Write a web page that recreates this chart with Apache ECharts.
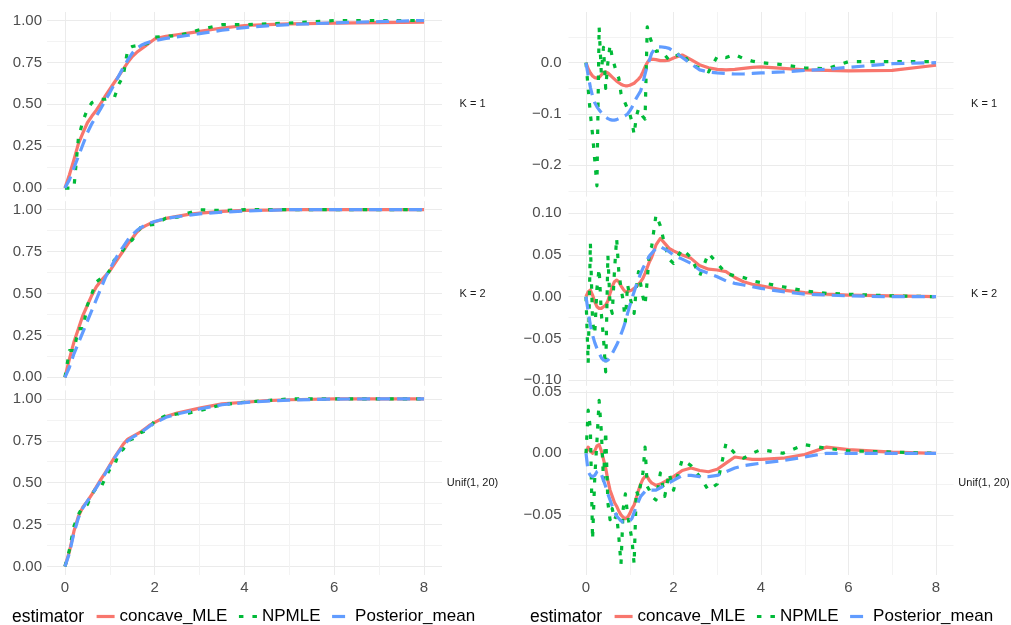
<!DOCTYPE html>
<html><head><meta charset="utf-8">
<script src="https://cdn.jsdelivr.net/npm/echarts@6/dist/echarts.min.js"></script>
<style>html,body{margin:0;padding:0;background:#fff}#c{width:1011px;height:625px}</style>
</head><body><div id="c"></div>
<script>
// ---------- data ----------
const estimators = ['concave_MLE', 'NPMLE', 'Posterior_mean'];
const facetLabels = ['K = 1', 'K = 2', 'Unif(1, 20)'];
const xTicks = [0, 2, 4, 6, 8];
const cdfTicks = [0, 0.25, 0.5, 0.75, 1];
const diffK1Ticks = [-0.2, -0.1, 0.0];
const diffK2Ticks = [-0.10, -0.05, 0, 0.05, 0.10];
const diffUnifTicks = [-0.05, 0, 0.05];

const XL = [0,0.1,0.2,0.3,0.4,0.5,0.6,0.7,0.8,0.9,1.0,1.1,1.2,1.3,1.4,1.5,1.6,1.7,1.8,1.9,2.0,2.25,2.5,2.75,3.0,3.5,4.0,4.5,5.0,6.0,7.0,8.0];
const XR = [0,0.05,0.1,0.15,0.2,0.25,0.3,0.35,0.4,0.45,0.5,0.55,0.6,0.65,0.7,0.75,0.8,0.85,0.9,0.95,1.0,1.05,1.1,1.15,1.2,1.25,1.3,1.35,1.4,1.45,1.5,1.6,1.7,1.8,1.9,2.0,2.2,2.4,2.6,2.8,3.0,3.2,3.4,3.6,3.8,4.0,4.5,5.0,5.5,6.0,7.0,8.0];

const cdfK1Concave = [0,0.08,0.17,0.265,0.33,0.39,0.43,0.465,0.505,0.55,0.59,0.63,0.67,0.71,0.75,0.785,0.81,0.83,0.85,0.87,0.89,0.905,0.915,0.925,0.935,0.955,0.97,0.975,0.98,0.984,0.987,0.99];
const cdfK1NPMLE   = [0,0,0,0.3,0.4,0.47,0.51,0.525,0.53,0.53,0.535,0.54,0.62,0.67,0.83,0.845,0.85,0.855,0.86,0.87,0.9,0.905,0.91,0.925,0.945,0.975,0.975,0.98,0.985,1,1,1];
const cdfK1Post    = [0,0.05,0.12,0.19,0.26,0.33,0.385,0.43,0.475,0.525,0.57,0.62,0.67,0.72,0.765,0.805,0.835,0.852,0.864,0.873,0.88,0.893,0.902,0.912,0.922,0.942,0.958,0.968,0.976,0.986,0.993,1.0];

const cdfK2Concave = [0,0.11,0.21,0.29,0.37,0.43,0.49,0.54,0.575,0.605,0.635,0.675,0.715,0.755,0.795,0.83,0.865,0.89,0.905,0.918,0.928,0.948,0.96,0.972,0.98,0.99,0.996,0.998,1,1,1,1];
const cdfK2NPMLE   = [0,0.16,0.16,0.29,0.29,0.43,0.5,0.57,0.59,0.6,0.64,0.7,0.72,0.76,0.8,0.82,0.86,0.9,0.905,0.91,0.912,0.95,0.955,0.98,1,0.995,1,1,1,1,1,1];
const cdfK2Post    = [0,0.06,0.14,0.205,0.27,0.335,0.4,0.465,0.53,0.595,0.645,0.695,0.74,0.78,0.82,0.85,0.875,0.895,0.91,0.92,0.93,0.948,0.958,0.967,0.975,0.985,0.992,0.996,1,1,1,1];

const cdfUnifConcave = [0,0.09,0.21,0.3,0.355,0.39,0.43,0.475,0.52,0.56,0.605,0.65,0.69,0.73,0.76,0.775,0.79,0.805,0.825,0.845,0.86,0.895,0.915,0.93,0.945,0.97,0.98,0.99,0.995,1,1,1];
const cdfUnifNPMLE   = [0,0.1,0.24,0.31,0.36,0.37,0.43,0.47,0.47,0.53,0.58,0.6,0.68,0.7,0.75,0.76,0.78,0.8,0.81,0.83,0.87,0.9,0.91,0.915,0.93,0.965,0.98,0.99,1,1,1,1];
const cdfUnifPost    = [0,0.08,0.2,0.29,0.35,0.39,0.43,0.47,0.515,0.555,0.6,0.645,0.685,0.72,0.75,0.77,0.785,0.8,0.82,0.84,0.855,0.89,0.91,0.925,0.94,0.965,0.978,0.987,0.993,0.999,1,1];

const diffK1Concave = [0,-0.012,-0.02,-0.026,-0.029,-0.03,-0.029,-0.024,-0.019,-0.018,-0.02,-0.024,-0.028,-0.032,-0.036,-0.039,-0.042,-0.044,-0.045,-0.045,-0.044,-0.042,-0.04,-0.036,-0.032,-0.027,-0.018,-0.008,0.0,0.006,0.007,0.006,0.004,0.004,0.005,0.009,0.015,0.006,-0.004,-0.01,-0.013,-0.014,-0.013,-0.011,-0.009,-0.008,-0.011,-0.014,-0.015,-0.016,-0.015,-0.005];
const diffK1NPMLE   = [0,-0.05,-0.1,-0.14,-0.19,-0.24,0.07,-0.02,0.03,-0.05,0.0,0.035,0.01,-0.005,-0.02,-0.03,-0.06,-0.07,-0.08,-0.09,-0.1,-0.115,-0.14,-0.105,-0.09,-0.095,-0.105,-0.11,0.07,0.052,0.04,0.022,0.024,0.015,0.005,0.01,0.02,-0.005,-0.01,-0.018,0.012,0.01,0.016,0.008,0.003,0.0,-0.004,-0.01,-0.012,0.002,0.002,0.002];
const diffK1Post    = [0,-0.025,-0.048,-0.065,-0.078,-0.086,-0.092,-0.097,-0.102,-0.106,-0.109,-0.111,-0.112,-0.112,-0.111,-0.109,-0.107,-0.105,-0.103,-0.1,-0.094,-0.087,-0.078,-0.069,-0.062,-0.055,-0.04,-0.022,-0.006,0.005,0.018,0.031,0.031,0.03,0.028,0.022,0.01,-0.002,-0.014,-0.018,-0.02,-0.021,-0.022,-0.022,-0.021,-0.02,-0.018,-0.015,-0.013,-0.009,-0.002,0.0];

const diffK2Concave = [0,0.006,0.008,0.002,-0.006,-0.012,-0.014,-0.014,-0.012,-0.01,-0.005,0.004,0.012,0.018,0.02,0.018,0.013,0.009,0.006,0.006,0.007,0.008,0.01,0.012,0.015,0.018,0.022,0.028,0.035,0.042,0.047,0.062,0.07,0.064,0.058,0.055,0.05,0.046,0.037,0.033,0.032,0.03,0.023,0.018,0.015,0.013,0.008,0.005,0.003,0.002,0.001,0.0];
const diffK2NPMLE   = [0,-0.08,0.065,-0.03,-0.045,0.01,0.034,-0.02,-0.05,-0.09,0.05,-0.01,-0.02,0.03,0.07,0.03,0.01,-0.005,-0.03,0.015,0.0,-0.01,-0.02,0.01,0.03,0.015,0.0,-0.01,0.02,0.055,0.06,0.098,0.085,0.062,0.045,0.04,0.057,0.047,0.025,0.052,0.04,0.028,0.025,0.023,0.019,0.017,0.012,0.007,0.004,0.003,0.001,0.0];
const diffK2Post    = [0,-0.018,-0.034,-0.046,-0.055,-0.062,-0.068,-0.073,-0.076,-0.077,-0.076,-0.073,-0.068,-0.063,-0.058,-0.052,-0.045,-0.038,-0.03,-0.02,-0.011,-0.002,0.006,0.014,0.021,0.028,0.034,0.039,0.044,0.049,0.052,0.058,0.06,0.057,0.054,0.05,0.045,0.04,0.032,0.028,0.024,0.019,0.016,0.014,0.012,0.01,0.006,0.003,0.002,0.001,0.0,0.0];

const diffUnifConcave = [0,0.005,0.002,0.0,0.002,0.006,0.007,0.002,-0.005,-0.012,-0.022,-0.03,-0.035,-0.04,-0.043,-0.047,-0.05,-0.052,-0.053,-0.052,-0.049,-0.045,-0.042,-0.036,-0.03,-0.025,-0.021,-0.019,-0.019,-0.022,-0.024,-0.026,-0.025,-0.023,-0.021,-0.019,-0.014,-0.012,-0.014,-0.015,-0.013,-0.008,-0.003,-0.004,-0.005,-0.005,-0.004,-0.001,0.005,0.003,0.001,0.0];
const diffUnifNPMLE   = [0,0.035,0.02,-0.07,-0.02,0.01,0.043,0.018,-0.022,0.018,-0.04,-0.054,-0.045,-0.054,-0.05,-0.068,-0.09,-0.045,-0.033,-0.05,-0.06,-0.07,-0.09,-0.03,-0.035,-0.025,-0.016,0.005,-0.027,-0.03,-0.035,-0.038,-0.016,-0.035,-0.016,-0.03,-0.005,-0.01,-0.019,-0.03,-0.025,0.008,0.0,-0.004,0.0,0.003,0.0,0.007,0.004,0.002,0.001,0.0];
const diffUnifPost    = [0,-0.015,-0.018,-0.019,-0.018,-0.015,-0.014,-0.017,-0.022,-0.027,-0.033,-0.038,-0.043,-0.047,-0.051,-0.053,-0.055,-0.056,-0.056,-0.056,-0.055,-0.053,-0.048,-0.043,-0.039,-0.035,-0.033,-0.031,-0.03,-0.03,-0.03,-0.03,-0.028,-0.026,-0.024,-0.022,-0.018,-0.018,-0.019,-0.019,-0.018,-0.015,-0.012,-0.01,-0.009,-0.008,-0.006,-0.003,0.0,0.0,0.0,0.0];

// ---------- layout / style ----------
const FONT = '"Liberation Sans", Arial, Helvetica, sans-serif';
const COLORS = ['#F8766D', '#00BA38', '#619CFF'];
const DASHES = ['solid', [4.5, 9], [13, 7]];
const LINE_W = 3.2;
const MAJOR = '#EBEBEB', MINOR = '#F3F3F3';
const colLeft = [47, 568.5], colWidth = [395, 385];
const rowTop = [12, 201.2, 390.4], rowH = 184.6;
const xLim = [-0.4, 8.4];
const labelMargin = [5, 7];

const panels = [
  {col:0,row:0,x:XL,ys:[cdfK1Concave,cdfK1NPMLE,cdfK1Post],lim:[-0.0507,1.0507],ticks:cdfTicks,dec:2},
  {col:0,row:1,x:XL,ys:[cdfK2Concave,cdfK2NPMLE,cdfK2Post],lim:[-0.0507,1.0507],ticks:cdfTicks,dec:2},
  {col:0,row:2,x:XL,ys:[cdfUnifConcave,cdfUnifNPMLE,cdfUnifPost],lim:[-0.0507,1.0507],ticks:cdfTicks,dec:2},
  {col:1,row:0,x:XR,ys:[diffK1Concave,diffK1NPMLE,diffK1Post],lim:[-0.261,0.0988],ticks:diffK1Ticks,dec:1},
  {col:1,row:1,x:XR,ys:[diffK2Concave,diffK2NPMLE,diffK2Post],lim:[-0.1068,0.1145],ticks:diffK2Ticks,dec:2},
  {col:1,row:2,x:XR,ys:[diffUnifConcave,diffUnifNPMLE,diffUnifPost],lim:[-0.0989,0.0511],ticks:diffUnifTicks,dec:2}
];

const grid = [], xAxis = [], yAxis = [], series = [], graphic = [];
const r6 = v => Number(v.toFixed(6));

panels.forEach(p => {
  const L = colLeft[p.col], W = colWidth[p.col], T = rowTop[p.row], H = rowH;
  const major = Math.abs(p.ticks[1] - p.ticks[0]);
  const step = major / 2;
  const gMin = r6(Math.ceil(p.lim[0] / step - 1e-9) * step);
  const gMax = r6(Math.floor(p.lim[1] / step + 1e-9) * step);
  const span = p.lim[1] - p.lim[0];
  const hTop = T + (p.lim[1] - gMax) / span * H;
  const hBot = T + (p.lim[1] - gMin) / span * H;
  const isMajor = v => Math.abs(v / major - Math.round(v / major)) < 1e-6;

  // horizontal gridlines + y labels
  let gi = grid.length;
  grid.push({left: L, top: hTop, width: W, height: hBot - hTop});
  xAxis.push({gridIndex: gi, type: 'value', min: 0, max: 1, show: false});
  yAxis.push({gridIndex: gi, type: 'value', min: gMin, max: gMax, interval: step,
    axisLine: {show: false}, axisTick: {show: false},
    splitLine: {show: true, lineStyle: {width: 1, color: isMajor(gMin) ? [MAJOR, MINOR] : [MINOR, MAJOR]}},
    axisLabel: {margin: labelMargin[p.col], color: '#4D4D4D', fontSize: 15, fontFamily: FONT,
      formatter: v => isMajor(v) ? ((v < -1e-9 ? '\u2212' : '') + Math.abs(v).toFixed(p.dec)) : ''}
  });

  // vertical gridlines + x labels
  gi = grid.length;
  const x0 = L + (0 - xLim[0]) / (xLim[1] - xLim[0]) * W;
  const x8 = L + (8 - xLim[0]) / (xLim[1] - xLim[0]) * W;
  grid.push({left: x0, top: T, width: x8 - x0, height: H});
  xAxis.push({gridIndex: gi, type: 'value', min: 0, max: 8, interval: 1,
    axisLine: {show: false}, axisTick: {show: false},
    splitLine: {show: true, lineStyle: {width: 1, color: [MAJOR, MINOR]}},
    axisLabel: {show: p.row === 2, margin: 5, color: '#4D4D4D', fontSize: 15, fontFamily: FONT,
      formatter: v => xTicks.indexOf(v) >= 0 ? String(v) : ''}
  });
  yAxis.push({gridIndex: gi, type: 'value', min: 0, max: 1, show: false});

  // data grid
  gi = grid.length;
  grid.push({left: L, top: T, width: W, height: H});
  xAxis.push({gridIndex: gi, type: 'value', min: xLim[0], max: xLim[1], show: false});
  yAxis.push({gridIndex: gi, type: 'value', min: p.lim[0], max: p.lim[1], show: false});
  p.ys.forEach((ys, k) => {
    series.push({
      type: 'line', name: estimators[k], xAxisIndex: gi, yAxisIndex: gi,
      data: p.x.map((xv, j) => [xv, ys[j]]),
      symbol: 'none', showSymbol: false, smooth: false, silent: true, z: 2 + k,
      lineStyle: {color: COLORS[k], width: LINE_W, type: DASHES[k], cap: 'butt', join: 'round'},
      itemStyle: {color: COLORS[k]}
    });
  });

  // facet strip label
  graphic.push({type: 'text', x: L + W + 30.5, y: T + H / 2, silent: true,
    style: {text: facetLabels[p.row], align: 'center', verticalAlign: 'middle',
      fontSize: 11, fill: '#1A1A1A', fontFamily: FONT}});
});

// legend titles
[12, 530].forEach(x => graphic.push({type: 'text', x: x, y: 617, silent: true,
  style: {text: 'estimator', align: 'left', verticalAlign: 'middle', fontSize: 17.5, fill: '#000', fontFamily: FONT}}));

const legendBase = {orient: 'horizontal', top: 608, padding: 0, itemWidth: 18, itemHeight: 8, itemGap: 10,
  data: estimators, selectedMode: false, itemStyle: {opacity: 0},
  lineStyle: {width: LINE_W, cap: 'butt'},
  textStyle: {fontSize: 17, color: '#000', fontFamily: FONT}};

const chart = echarts.init(document.getElementById('c'), null, {renderer: 'canvas'});
chart.setOption({
  animation: false,
  backgroundColor: '#fff',
  textStyle: {fontFamily: FONT},
  grid, xAxis, yAxis, series, graphic,
  legend: [Object.assign({}, legendBase, {left: 95}), Object.assign({}, legendBase, {left: 613})]
});
</script></body></html>
